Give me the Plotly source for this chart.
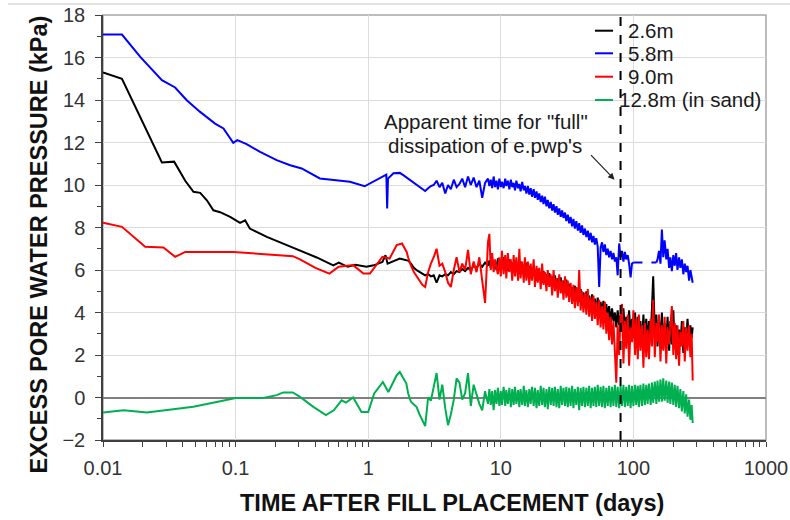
import plotly.graph_objects as go

# ---------------------------------------------------------------
# Excess pore water pressure (kPa) after fill placement, four piezometers
# ---------------------------------------------------------------

# Early readings (days, kPa), before the dense logging period
t_head_26 = [0.01, 0.0139, 0.0278, 0.0344, 0.0417, 0.0481, 0.0541, 0.0607, 0.068, 0.0764,
             0.091, 0.108, 0.118, 0.128, 0.172, 0.229, 0.306, 0.409, 0.545, 0.6, 0.7, 0.8,
             0.97, 1.1, 1.28, 1.35, 1.4, 1.73, 1.94]
p_head_26 = [15.3, 15.0, 11.06, 11.1, 10.2, 9.68, 9.63, 9.28, 8.81, 8.72,
             8.5, 8.22, 8.34, 7.95, 7.56, 7.25, 6.93, 6.59, 6.22, 6.35, 6.15, 6.25,
             6.15, 6.22, 6.38, 6.7, 6.3, 6.54, 6.46]

t_head_58 = [0.01, 0.0139, 0.0191, 0.0278, 0.035, 0.0428, 0.054, 0.07, 0.081, 0.096,
             0.103, 0.121, 0.153, 0.204, 0.258, 0.315, 0.432, 0.545, 0.728, 0.94,
             1.16, 1.37, 1.39, 1.41, 1.55, 1.73, 1.85]
p_head_58 = [17.08, 17.08, 16.03, 14.93, 14.59, 13.99, 13.44, 12.89, 12.66, 11.98,
             12.11, 11.92, 11.56, 11.17, 10.93, 10.78, 10.31, 10.23, 10.15, 9.94,
             10.23, 10.49, 8.89, 10.3, 10.55, 10.57, 10.45]

t_head_90 = [0.01, 0.0139, 0.0208, 0.0286, 0.035, 0.0417, 0.096, 0.204, 0.27, 0.306,
             0.40, 0.51, 0.6, 0.77, 0.92, 1.03, 1.28, 1.45, 1.64, 1.8, 1.95]
p_head_90 = [8.22, 8.03, 7.09, 7.06, 6.62, 6.85, 6.85, 6.7, 6.65, 6.5,
             6.1, 5.83, 6.15, 6.23, 5.83, 5.83, 6.62, 6.54, 7.17, 7.25, 6.85]

t_head_128 = [0.01, 0.0143, 0.0214, 0.034, 0.048, 0.072, 0.1, 0.162, 0.204, 0.229,
              0.27, 0.306, 0.386, 0.48, 0.55, 0.63, 0.68, 0.77, 0.89, 1.0,
              1.11, 1.29, 1.42, 1.64, 1.73, 1.94]
p_head_128 = [-0.71, -0.6, -0.71, -0.56, -0.44, -0.21, -0.02, -0.02, 0.11, 0.24,
              0.24, 0.03, -0.44, -0.83, -0.6, -0.13, -0.24, 0.0, -0.68, -0.68,
              0.19, 0.73, 0.26, 1.05, 1.2, 0.66]

# Dense logging period (days), shared by all piezometers
t_log = [
    # 2 - 8 days
    2.00, 2.10, 2.21, 2.32, 2.44, 2.56, 2.69, 2.83, 2.97, 3.12, 3.28, 3.45, 3.62, 3.81,
    4.00, 4.20, 4.42, 4.64, 4.88, 5.12, 5.38, 5.66, 5.94, 6.24, 6.56, 6.89, 7.24, 7.61,
    # 8 - 16 days
    8.00, 8.20, 8.40, 8.61, 8.83, 9.05, 9.28, 9.51, 9.75, 10.0, 10.2, 10.5, 10.8, 11.0,
    11.3, 11.6, 11.9, 12.2, 12.5, 12.8, 13.1, 13.5, 13.8, 14.1, 14.5, 14.9, 15.2, 15.6,
    # 16 - 32 days
    16.0, 16.4, 16.8, 17.2, 17.7, 18.1, 18.6, 19.0, 19.5, 20.0, 20.5, 21.0, 21.5, 22.1,
    22.6, 23.2, 23.8, 24.4, 25.0, 25.6, 26.3, 26.9, 27.6, 28.3, 29.0, 29.7, 30.5, 31.2,
    # 32 - 64 days
    32.0, 32.8, 33.6, 34.5, 35.3, 36.2, 37.1, 38.1, 39.0, 40.0, 41.0, 42.0, 43.1, 44.2,
    45.3, 46.4, 47.6, 48.8, 50.0, 51.2, 52.5, 53.8, 55.2, 56.6, 58.0, 59.4, 60.9, 62.5,
    # 64 - 128 days
    64.0, 65.6, 67.3, 69.0, 70.7, 72.5, 74.3, 76.1, 78.1, 80.0, 82.0, 84.1, 86.2, 88.3,
    90.6, 92.8, 95.2, 97.6, 100, 103, 105, 108, 110, 113, 116, 119, 122, 125,
    # 128 - 280 days
    128, 131, 135, 138, 141, 145, 149, 152, 156, 160, 164, 168, 172, 177,
    181, 186, 190, 195, 200, 205, 210, 215, 221, 226, 232, 238, 244, 250,
    256, 263, 269, 275, 280,
]

p_log_26 = [
    6.45, 6.3, 6.1, 5.99, 5.9, 5.8, 5.75, 5.8, 5.7, 5.75, 5.4, 5.75, 5.7, 5.8,
    5.75, 5.9, 5.8, 5.95, 5.9, 6.05, 5.95, 6.1, 6.0, 6.2, 6.1, 6.3, 6.15, 6.35,
    6.2, 6.45, 6.1, 6.5, 6.2, 6.4, 6.0, 6.55, 6.2, 6.45, 6.05, 6.6, 6.15, 6.4,
    5.95, 6.5, 6.1, 6.35, 5.9, 6.45, 6.05, 6.3, 5.85, 6.4, 5.95, 6.25, 5.8, 6.35,
    5.7, 6.2, 5.6, 6.1, 5.75, 6.0, 5.5, 6.05, 5.6, 5.9, 5.4, 5.95, 5.5, 5.8,
    5.3, 5.85, 5.4, 5.7, 5.2, 5.75, 5.3, 5.6, 5.1, 5.65, 5.2, 5.5, 5.0, 5.55,
    4.8, 5.35, 4.75, 5.2, 4.6, 5.25, 4.65, 5.05, 4.5, 5.1, 4.55, 4.95, 4.35, 5.0,
    4.4, 4.8, 4.2, 4.85, 4.25, 4.65, 4.05, 4.7, 4.1, 4.5, 3.9, 4.55, 3.95, 4.4,
    3.8, 4.3, 3.5, 4.2, 3.6, 4.0, 3.3, 4.1, 3.4, 3.9, 3.1, 4.2, 3.2, 3.8,
    2.9, 4.1, 3.0, 3.7, 2.8, 4.0, 2.7, 3.8, 2.9, 3.6, 2.5, 3.9, 2.6, 3.7,
    2.5, 3.6, 2.8, 4.2, 5.7, 3.0, 3.9, 2.4, 3.7, 2.6, 4.0, 2.3, 3.5, 2.6,
    3.8, 2.2, 3.6, 2.5, 4.1, 2.3, 3.4, 2.0, 3.2, 2.4, 3.6, 2.1, 3.3, 2.7,
    3.7, 2.5, 3.4, 2.8, 3.3,
]

# 5.8 m: no readings between about 100 and 150 days
p_log_58 = [
    10.3, 10.2, 10.1, 10.0, 9.9, 9.8, 9.72, 9.85, 9.95, 10.0, 10.2, 9.9, 10.1, 9.6,
    10.0, 9.8, 10.25, 9.9, 10.05, 10.3, 9.9, 10.4, 10.0, 10.35, 9.9, 10.2, 9.4, 10.1,
    10.3, 9.95, 10.25, 9.85, 10.4, 9.9, 10.2, 9.8, 10.3, 9.9, 10.15, 9.85, 10.3, 9.95,
    10.2, 9.8, 10.25, 9.9, 10.1, 9.75, 10.2, 9.85, 10.05, 9.7, 10.15, 9.75, 9.95, 9.6,
    9.95, 9.55, 9.85, 9.45, 9.8, 9.4, 9.7, 9.3, 9.6, 9.2, 9.5, 9.1, 9.45, 9.0,
    9.3, 8.9, 9.2, 8.8, 9.1, 8.7, 9.0, 8.6, 8.9, 8.5, 8.8, 8.45, 8.7, 8.3,
    8.6, 8.2, 8.5, 8.05, 8.4, 7.95, 8.3, 7.85, 8.2, 7.75, 8.1, 7.65, 7.95, 7.55,
    7.85, 7.4, 7.75, 7.3, 7.6, 7.2, 7.5, 7.1, 5.2, 7.05, 7.3, 6.85, 7.2, 6.7,
    7.0, 6.6, 6.9, 6.5, 6.8, 6.4, 6.6, 5.75, 7.25, 6.6, 6.9, 6.4, 6.85, 6.5,
    6.7, 6.3, 5.65, 6.3, 6.35, None, None, None, None, None, None, None, None, None,
    None, None, None, None, None, None, 6.35, 6.5, 6.9, 6.3, 7.9, 6.6, 7.4, 6.5,
    7.0, 6.1, 6.6, 5.95, 6.7, 6.2, 6.8, 6.0, 6.6, 6.1, 6.5, 5.8, 6.3, 5.9,
    6.2, 5.5, 6.0, 5.6, 5.4,
]

p_log_90 = [
    6.6, 6.2, 5.9, 5.7, 5.5, 5.3, 5.2, 5.9, 6.3, 6.6, 7.0, 6.2, 6.3, 5.9,
    5.4, 5.2, 6.0, 6.6, 5.9, 6.3, 6.0, 6.95, 5.8, 6.4, 5.9, 6.6, 5.5, 4.45,
    7.3, 7.7, 6.0, 6.8, 5.9, 6.5, 6.1, 5.8, 6.6, 5.7, 6.9, 5.8, 6.7, 5.6,
    6.8, 5.9, 6.5, 5.5, 6.7, 5.7, 6.6, 5.5, 7.0, 5.6, 6.4, 5.4, 6.6, 5.5,
    6.4, 5.3, 6.3, 5.5, 6.5, 5.2, 6.2, 5.4, 6.1, 5.1, 6.3, 5.3, 5.9, 5.0,
    6.0, 5.2, 5.8, 4.8, 6.0, 5.0, 5.6, 4.7, 5.8, 4.9, 5.5, 4.6, 5.7, 4.7,
    5.5, 4.5, 5.4, 4.4, 5.3, 4.2, 5.2, 4.3, 6.0, 4.1, 5.0, 4.0, 4.9, 3.9,
    5.1, 3.8, 4.7, 3.6, 4.8, 3.7, 4.5, 3.4, 4.6, 3.3, 4.3, 3.2, 4.5, 3.0,
    4.0, 2.7, 3.8, 2.5, 3.6, 2.2, 0.7, 3.4, 2.0, 3.9, 4.4, 1.6, 3.6, 2.3,
    3.9, 1.5, 3.3, 2.6, 4.1, 2.0, 3.7, 1.8, 3.9, 2.2, 3.4, 1.4, 3.5, 1.9,
    3.2, 1.8, 3.7, 2.4, 4.6, 1.9, 3.5, 2.6, 3.9, 1.7, 3.4, 2.2, 3.8, 1.6,
    3.3, 2.5, 3.6, 4.3, 2.0, 3.5, 1.8, 3.4, 1.5, 3.1, 2.4, 3.6, 1.7, 3.3,
    2.2, 3.4, 1.9, 3.0, 0.8,
]

p_log_128 = [
    0.2, -0.2, -0.35, -0.45, -0.8, -1.1, -1.35, 0.0, -0.15, 0.5, 1.15, -0.1, 0.6, -0.5,
    -1.3, -0.8, -0.1, 0.9, 0.7, -0.1, 0.2, 1.15, -0.4, 0.6, 0.1, -0.3, -0.6, 0.3,
    -0.3, 0.4, -0.35, 0.3, -0.6, 0.35, -0.3, 0.45, -0.4, 0.3, -0.35, 0.5, -0.4, 0.35,
    -0.3, 0.45, -0.45, 0.4, -0.35, 0.5, -0.3, 0.35, -0.45, 0.4, -0.35, 0.55, -0.4, 0.35,
    -0.45, 0.4, -0.3, 0.5, -0.4, 0.45, -0.5, 0.35, -0.4, 0.55, -0.35, 0.45, -0.45, 0.4,
    -0.55, 0.5, -0.35, 0.45, -0.4, 0.5, -0.45, 0.4, -0.5, 0.55, -0.35, 0.45, -0.4, 0.5,
    -0.45, 0.45, -0.4, 0.55, -0.5, 0.4, -0.35, 0.5, -0.6, 0.45, -0.4, 0.5, -0.45, 0.45,
    -0.4, 0.55, -0.5, 0.45, -0.4, 0.5, -0.45, 0.6, -0.4, 0.5, -0.45, 0.55, -0.5, 0.45,
    -0.4, 0.55, -0.45, 0.5, -0.4, 0.6, -0.45, 0.5, -0.5, 0.55, -0.4, 0.6, -0.45, 0.5,
    -0.4, 0.6, -0.5, 0.55, -0.4, 0.6, -0.35, 0.55, -0.45, 0.6, -0.4, 0.65, -0.35, 0.6,
    -0.3, 0.65, -0.35, 0.7, -0.25, 0.75, -0.3, 0.8, -0.2, 0.85, -0.2, 0.9, -0.15, 0.8,
    -0.25, 0.75, -0.3, 0.7, -0.35, 0.6, -0.45, 0.55, -0.5, 0.4, -0.65, 0.3, -0.75, 0.15,
    -0.9, -0.1, -1.05, -0.35, -1.2,
]

# Dashed link across the 5.8 m data gap
t_gap_58 = [100, 149]
p_gap_58 = [6.35, 6.35]

# Apparent time for "full" dissipation (days)
t_full = 80
p_span = [-2, 18]

series = [
    ("2.6m", "#000000", t_head_26, p_head_26, p_log_26),
    ("5.8m", "#0000FF", t_head_58, p_head_58, p_log_58),
    ("9.0m", "#FF0000", t_head_90, p_head_90, p_log_90),
    ("12.8m (in sand)", "#00B050", t_head_128, p_head_128, p_log_128),
]

x_ticks = [0.01, 0.1, 1, 10, 100, 1000]
x_ticktext = ["0.01", "0.1", "1", "10", "100", "1000"]

FONT = "Arial, 'Liberation Sans', sans-serif"

# Plot-area geometry in pixels (figure 790 x 520)
L, R, T, B = 103, 766, 15, 440


def px(x):
    return (x - L) / (R - L)


def py(y):
    return (B - y) / (B - T)


fig = go.Figure()

for name, color, th, ph, pl in series:
    fig.add_trace(go.Scatter(
        x=th + t_log, y=ph + pl, mode="lines", name=name,
        line=dict(color=color, width=2), connectgaps=False, showlegend=False,
    ))

fig.add_trace(go.Scatter(
    x=t_gap_58, y=p_gap_58, mode="lines", showlegend=False,
    line=dict(color="#0000FF", width=2, dash="dash"),
))

fig.add_trace(go.Scatter(
    x=[t_full, t_full], y=p_span, mode="lines", showlegend=False,
    line=dict(color="#000000", width=2, dash="dash"),
))

shapes = [
    # grey frame on top / right
    dict(type="rect", xref="paper", yref="paper", x0=0, x1=1, y0=0, y1=1,
         line=dict(color="#A6A6A6", width=1.5), layer="below"),
    # thin rule across the top of the figure
    dict(type="line", xref="paper", yref="paper", x0=px(8), x1=px(790),
         y0=py(4), y1=py(4), line=dict(color="#E3E3E3", width=2)),
]

annotations = []

# Legend entries (sample line + label)
legend_rows = [30.7, 53.3, 76.7, 100.0]
legend_text_x = [626, 626, 626, 617]
for (name, color, *_), yy, tx in zip(series, legend_rows, legend_text_x):
    shapes.append(dict(type="line", xref="paper", yref="paper",
                       x0=px(595), x1=px(613), y0=py(yy), y1=py(yy),
                       line=dict(color=color, width=2)))
    annotations.append(dict(xref="paper", yref="paper", x=px(tx), y=py(yy),
                            text=name, showarrow=False, xanchor="left", yanchor="middle",
                            font=dict(family=FONT, size=20.5, color="#1a1a1a")))

# Note and arrow pointing to the dashed line
annotations += [
    dict(xref="paper", yref="paper", x=px(486), y=py(121.7), text='Apparent time for "full"',
         showarrow=False, xanchor="center", yanchor="middle",
         font=dict(family=FONT, size=20.5, color="#1a1a1a")),
    dict(xref="paper", yref="paper", x=px(485), y=py(145.7), text="dissipation of e.pwp's",
         showarrow=False, xanchor="center", yanchor="middle",
         font=dict(family=FONT, size=20.5, color="#1a1a1a")),
    dict(xref="x", yref="y", x=1.858, y=10.25, ax=-25, ay=-26, text="",
         showarrow=True, arrowhead=2, arrowsize=1.1, arrowwidth=1.2, arrowcolor="#222222"),
    # axis titles
    dict(xref="paper", yref="paper", x=px(452), y=py(503),
         text="<b>TIME AFTER FILL PLACEMENT (days)</b>", showarrow=False,
         xanchor="center", yanchor="middle",
         font=dict(family=FONT, size=23.5, color="#111111")),
    dict(xref="paper", yref="paper", x=px(38.5), y=py(245),
         text="<b>EXCESS PORE WATER PRESSURE (kPa)</b>", showarrow=False, textangle=-90,
         xanchor="center", yanchor="middle",
         font=dict(family=FONT, size=23.5, color="#111111")),
]

minor_x = [m * 10 ** e for e in range(-2, 3) for m in range(2, 10)]

fig.update_layout(
    width=790, height=520,
    margin=dict(l=L, r=790 - R, t=T, b=520 - B, autoexpand=False),
    paper_bgcolor="white", plot_bgcolor="white",
    font=dict(family=FONT, color="#333333"),
    showlegend=False,
    shapes=shapes,
    annotations=annotations,
    xaxis=dict(
        type="log", range=[-2, 3],
        tickmode="array", tickvals=x_ticks, ticktext=x_ticktext,
        tickfont=dict(size=20, color="#333333"),
        showgrid=True, gridcolor="#DCDCDC", gridwidth=1,
        showline=True, linecolor="#404040", linewidth=1.5,
        ticks="outside", ticklen=5, tickcolor="#404040", tickwidth=1,
        ticklabelstandoff=4,
        minor=dict(tickmode="array", tickvals=minor_x, ticks="outside", ticklen=5,
                   tickcolor="#404040", showgrid=False),
        zeroline=False,
    ),
    yaxis=dict(
        range=[-2, 18], dtick=2, tick0=0,
        tickfont=dict(size=20, color="#333333"),
        showgrid=True, gridcolor="#DCDCDC", gridwidth=1,
        showline=True, linecolor="#404040", linewidth=1.5,
        ticks="outside", ticklen=6, tickcolor="#404040", tickwidth=1,
        ticklabelstandoff=6,
        minor=dict(dtick=1, ticks="outside", ticklen=4, tickcolor="#404040", showgrid=False),
        zeroline=True, zerolinecolor="#808080", zerolinewidth=1.5,
    ),
)

fig.write_html("out.html")
